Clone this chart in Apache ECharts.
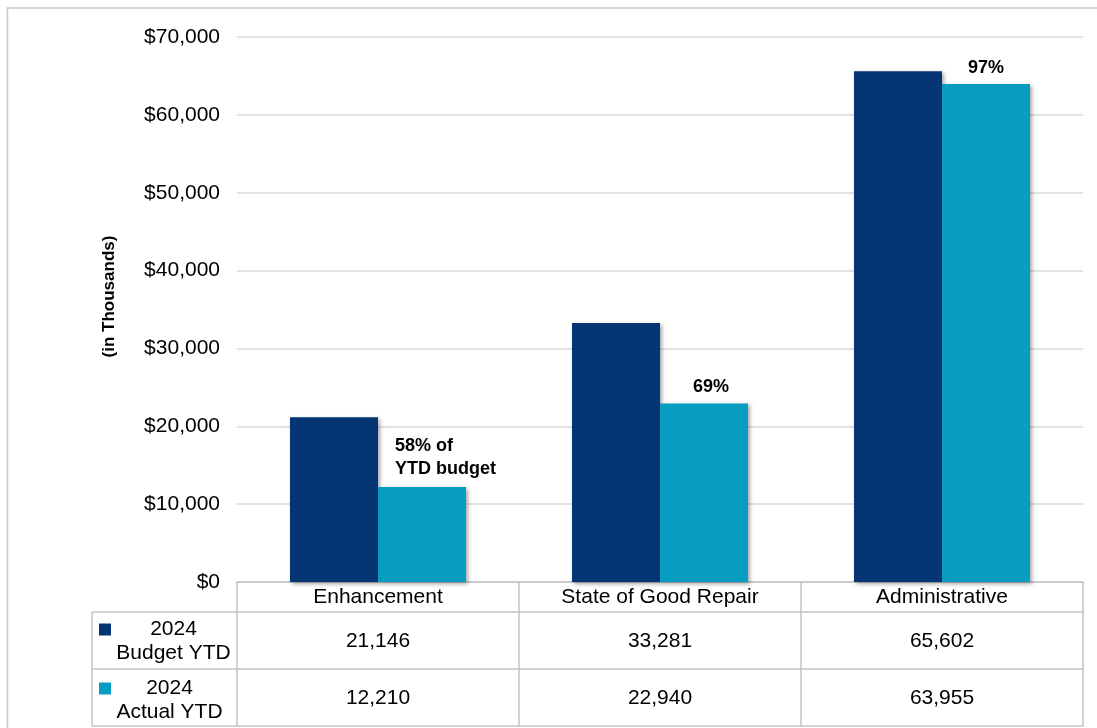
<!DOCTYPE html>
<html>
<head>
<meta charset="utf-8">
<script src="https://cdn.jsdelivr.net/npm/echarts@6/dist/echarts.min.js"></script>
<style>
html,body{margin:0;padding:0;background:#fff;}
#chart{width:1097px;height:728px;}
</style>
</head>
<body>
<div id="chart"></div>
<script>
const categories = ['Enhancement', 'State of Good Repair', 'Administrative'];
const budgetYTD = [21146, 33281, 65602];
const actualYTD = [12210, 22940, 63955];
const seriesNames = ['2024 Budget YTD', '2024 Actual YTD'];
const pctLabels = ['58% of\nYTD budget', '69%', '97%'];
const yMin = 0, yMax = 70000, yInterval = 10000;
const yAxisName = '(in Thousands)';

const NAVY = '#063573';
const TEAL = '#079dc0';
const LINE = '#c4c4c4';
const FONT = 'Liberation Sans, Arial, sans-serif';

const fmt = v => v.toLocaleString('en-US');

const chart = echarts.init(document.getElementById('chart'), null, {renderer: 'canvas'});

const barShadow = {shadowBlur: 4, shadowOffsetX: 2, shadowOffsetY: 2, shadowColor: 'rgba(0,0,0,0.35)'};

function legendFor(idx, richKey, top) {
  return {
    data: [seriesNames[idx]],
    orient: 'vertical',
    left: 99,
    top: top,
    padding: 0,
    icon: 'rect',
    itemWidth: 12,
    itemHeight: 12,
    selectedMode: false,
    formatter: name => {
      const i = name.indexOf(' ');
      return '{' + richKey + '|' + name.slice(0, i) + '}\n{' + richKey + '|' + name.slice(i + 1) + '}';
    },
    textStyle: {
      padding: [24, 0, 0, 0],
      rich: {
        b: {width: 115, align: 'center', fontSize: 21, lineHeight: 24, color: '#000', fontFamily: FONT},
        c: {width: 107, align: 'center', fontSize: 21, lineHeight: 24, color: '#000', fontFamily: FONT}
      }
    }
  };
}

const actualData = actualYTD.map((v, i) => {
  const item = {value: v, label: {show: true, formatter: pctLabels[i]}};
  if (i === 0) {
    item.label.position = [17, -52];
    item.label.align = 'left';
    item.label.lineHeight = 23;
  } else {
    item.label.position = 'top';
    item.label.distance = 7;
    if (i === 1) item.label.offset = [7, 0];
  }
  return item;
});

const option = {
  animation: false,
  textStyle: {fontFamily: FONT},
  graphic: [
    {type: 'rect', shape: {x: 7.5, y: 8, width: 1200, height: 800}, style: {fill: 'none', stroke: '#c8c8c8', lineWidth: 1.5}, z: -10, silent: true},
    {type: 'line', shape: {x1: 92, y1: 612, x2: 237, y2: 612}, style: {stroke: LINE, lineWidth: 1.5}, silent: true},
    {type: 'line', shape: {x1: 92, y1: 669, x2: 237, y2: 669}, style: {stroke: LINE, lineWidth: 1.5}, silent: true},
    {type: 'line', shape: {x1: 92, y1: 726, x2: 237, y2: 726}, style: {stroke: LINE, lineWidth: 1.5}, silent: true},
    {type: 'line', shape: {x1: 92, y1: 612, x2: 92, y2: 726}, style: {stroke: LINE, lineWidth: 1.5}, silent: true}
  ],
  legend: [legendFor(0, 'b', 619), legendFor(1, 'c', 678)],
  grid: {left: 237, right: 14, top: 37, bottom: 146, containLabel: false},
  xAxis: [
    {
      type: 'category', data: categories, position: 'bottom',
      axisLine: {show: true, lineStyle: {color: LINE, width: 1.5}},
      axisTick: {show: true, length: 144, alignWithLabel: false, interval: 0, lineStyle: {color: LINE, width: 1.5}},
      axisLabel: {interval: 0, margin: 5, fontSize: 21, color: '#000', fontFamily: FONT},
      splitLine: {show: false}
    },
    {
      type: 'category', data: categories, position: 'bottom', offset: 30,
      axisLine: {show: true, lineStyle: {color: LINE, width: 1.5}},
      axisTick: {show: false},
      axisLabel: {interval: 0, margin: 19, fontSize: 21, color: '#000', fontFamily: FONT,
        formatter: (v, i) => fmt(budgetYTD[i])}
    },
    {
      type: 'category', data: categories, position: 'bottom', offset: 87,
      axisLine: {show: true, lineStyle: {color: LINE, width: 1.5}},
      axisTick: {show: false},
      axisLabel: {interval: 0, margin: 19, fontSize: 21, color: '#000', fontFamily: FONT,
        formatter: (v, i) => fmt(actualYTD[i])}
    },
    {
      type: 'category', data: categories, position: 'bottom', offset: 144,
      axisLine: {show: true, lineStyle: {color: LINE, width: 1.5}},
      axisTick: {show: false},
      axisLabel: {show: false}
    }
  ],
  yAxis: {
    type: 'value', min: yMin, max: yMax, interval: yInterval,
    name: yAxisName, nameLocation: 'middle', nameGap: 119, nameRotate: 90,
    nameTextStyle: {fontSize: 17, fontWeight: 'bold', color: '#000', fontFamily: FONT, padding: [0, 0, 0, 26]},
    axisLine: {show: false}, axisTick: {show: false},
    axisLabel: {fontSize: 21, color: '#000', margin: 17, fontFamily: FONT, formatter: v => '$' + fmt(v)},
    splitLine: {show: true, lineStyle: {color: '#d9d9d9', width: 1.5}}
  },
  series: [
    {
      name: seriesNames[0], type: 'bar', data: budgetYTD, barWidth: 88, barGap: '0%',
      itemStyle: Object.assign({color: NAVY}, barShadow)
    },
    {
      name: seriesNames[1], type: 'bar', data: actualData, barWidth: 88, barGap: '0%',
      itemStyle: Object.assign({color: TEAL}, barShadow),
      label: {fontSize: 18, fontWeight: 'bold', color: '#000', fontFamily: FONT}
    }
  ]
};
chart.setOption(option);
</script>
</body>
</html>
